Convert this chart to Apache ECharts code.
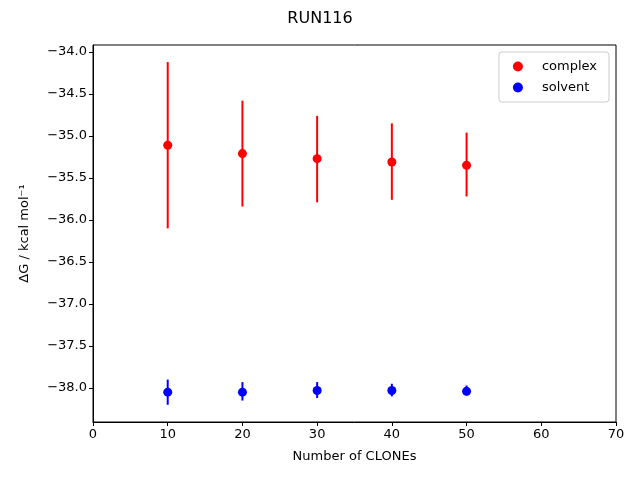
<!DOCTYPE html>
<html><head><meta charset="utf-8">
<script src="https://cdn.jsdelivr.net/npm/echarts@6/dist/echarts.min.js"></script>
<style>html,body{margin:0;padding:0;background:#fff}#c{width:640px;height:480px}</style>
</head><body><div id="c"></div>
<script>
const clones = [10, 20, 30, 40, 50];
const complexMean = [-35.11, -35.21, -35.27, -35.31, -35.35];
const complexLow  = [-36.10, -35.84, -35.79, -35.76, -35.72];
const complexHigh = [-34.12, -34.58, -34.76, -34.85, -34.96];
const solventMean = [-38.05, -38.05, -38.03, -38.03, -38.04];
const solventLow  = [-38.20, -38.15, -38.12, -38.10, -38.09];
const solventHigh = [-37.90, -37.93, -37.93, -37.95, -37.97];
const xTicks = [0, 10, 20, 30, 40, 50, 60, 70];
const yTicks = [-38.0, -37.5, -37.0, -36.5, -36.0, -35.5, -35.0, -34.5, -34.0];

const font = 'DejaVu Sans';
function errSeries(name, color, low, high) {
  return {
    type: 'custom', name: name + '_err', silent: true, z: 2,
    data: clones.map((x, i) => [x, low[i], high[i]]),
    renderItem: function (params, api) {
      const p1 = api.coord([api.value(0), api.value(1)]);
      const p2 = api.coord([api.value(0), api.value(2)]);
      return { type: 'line', shape: { x1: p1[0], y1: p1[1], x2: p2[0], y2: p2[1] },
               style: { stroke: color, lineWidth: 2 } };
    }
  };
}
const chart = echarts.init(document.getElementById('c'), null, { renderer: 'canvas' });
chart.setOption({
  animation: false,
  title: { text: 'RUN116', left: 'center', top: 6,
    textStyle: { fontFamily: font, fontSize: 16, fontWeight: 'normal', color: '#000' } },
  grid: { left: 93, right: 24, top: 45, bottom: 58, show: true, borderColor: '#000', borderWidth: 1, backgroundColor: 'transparent' },
  legend: {
    right: 31, top: 52, orient: 'vertical', itemWidth: 10, itemHeight: 10, itemGap: 8,
    padding: [8, 12, 8, 14],
    borderColor: '#ccc', borderWidth: 1, borderRadius: 3,
    textStyle: { fontFamily: font, fontSize: 13, color: '#000', padding: [0, 0, 0, 14] },
    data: [{ name: 'complex', icon: 'circle' }, { name: 'solvent', icon: 'circle' }]
  },
  xAxis: {
    type: 'value', min: 0, max: 70,
    name: 'Number of CLONEs', nameLocation: 'middle', nameGap: 28,
    nameTextStyle: { fontFamily: font, fontSize: 13, color: '#000' },
    axisLine: { show: true, lineStyle: { color: '#000', width: 1 } },
    axisTick: { show: true, length: 4, lineStyle: { color: '#000' }, customValues: xTicks },
    axisLabel: { fontFamily: font, fontSize: 13, color: '#000', margin: 6, customValues: xTicks },
    splitLine: { show: false }
  },
  yAxis: {
    type: 'value', min: -38.405, max: -33.917,
    name: 'ΔG / kcal mol⁻¹', nameLocation: 'middle', nameGap: 62, nameRotate: 90,
    nameTextStyle: { fontFamily: font, fontSize: 13, color: '#000' },
    axisLine: { show: true, lineStyle: { color: '#000', width: 1 } },
    axisTick: { show: true, length: 4, lineStyle: { color: '#000' }, customValues: yTicks },
    axisLabel: { fontFamily: font, fontSize: 13, color: '#000', margin: 6, customValues: yTicks,
      formatter: v => (v < 0 ? '\u2212' : '') + Math.abs(v).toFixed(1) },
    splitLine: { show: false }
  },
  series: [
    errSeries('complex', '#ff0000', complexLow, complexHigh),
    errSeries('solvent', '#0000ff', solventLow, solventHigh),
    { type: 'scatter', name: 'complex', z: 3, symbol: 'circle', symbolSize: 9,
      itemStyle: { color: '#ff0000', opacity: 1 }, data: clones.map((x, i) => [x, complexMean[i]]) },
    { type: 'scatter', name: 'solvent', z: 3, symbol: 'circle', symbolSize: 9,
      itemStyle: { color: '#0000ff', opacity: 1 }, data: clones.map((x, i) => [x, solventMean[i]]) }
  ]
});
</script></body></html>
